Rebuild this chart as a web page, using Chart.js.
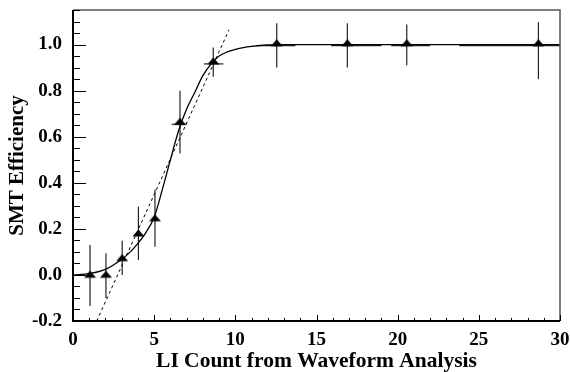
<!DOCTYPE html>
<html>
<head>
<meta charset="utf-8">
<script src="https://cdn.jsdelivr.net/npm/chart.js@4.4.1/dist/chart.umd.min.js"></script>
<style>
  html, body { margin: 0; padding: 0; background: #fff; }
</style>
</head>
<body>
<canvas id="effChart" width="570" height="372"></canvas>
<script>
const xTicks = [0, 5, 10, 15, 20, 25, 30];
const yTicks = [-0.2, 0.0, 0.2, 0.4, 0.6, 0.8, 1.0];

const liCount    = [1.05, 2.03, 3.03, 4.03, 5.05, 6.59, 8.64, 12.55, 16.9, 20.56, 28.67];
const efficiency = [-0.01, -0.01, 0.062, 0.169, 0.235, 0.654, 0.916, 0.995, 0.995, 0.995, 0.995];
const errHigh    = [0.13, 0.094, 0.148, 0.296, 0.371, 0.80, 0.987, 1.092, 1.092, 1.087, 1.097];
const errLow     = [-0.135, -0.10, 0.0, 0.065, 0.122, 0.527, 0.86, 0.90, 0.90, 0.91, 0.85];
const binLow     = [null, null, null, null, null, 6.08, 8.07, 11.3, 15.9, 19.6, 23.8];
const binHigh    = [null, null, null, null, null, 7.0, 9.26, 13.7, 19.0, 22.0, 30];

// fitted turn-on curve
const fitX = [0, 1, 2, 3, 3.5, 4, 4.5, 5, 5.5, 6, 6.5, 7, 7.5, 8, 8.5, 9, 9.5, 10, 10.5, 11, 12, 13, 30];
const fitY = [0, 0.006, 0.024, 0.068, 0.098, 0.137, 0.185, 0.25, 0.37, 0.50, 0.625, 0.72, 0.792, 0.865, 0.915, 0.95, 0.968, 0.979, 0.987, 0.992, 0.998, 1.0, 1.0];

// straight-line fit
const lineX = [1.46, 9.61];
const lineY = [-0.2, 1.064];

const SERIF = "'Liberation Serif', 'DejaVu Serif', serif";

// flat triangle marker, base sitting on the data value
function makeTriangle() {
  const c = document.createElement('canvas');
  c.width = 13;
  c.height = 14;
  const g = c.getContext('2d');
  g.fillStyle = '#000';
  g.beginPath();
  g.moveTo(0.5, 7.5);
  g.lineTo(12.5, 7.5);
  g.lineTo(6.5, 0.5);
  g.closePath();
  g.fill();
  return c;
}

// keep the plot frame where the reference has it
function fixBox(s, size) {
  if (s.isHorizontal()) s.height = size; else s.width = size;
  s.paddingTop = 0;
  s.paddingBottom = 0;
  s.paddingLeft = 0;
  s.paddingRight = 0;
}

const errorBars = {
  id: 'errorBars',
  beforeDatasetsDraw(chart) {
    const { ctx, scales: { x, y } } = chart;
    ctx.save();
    ctx.strokeStyle = '#222';
    ctx.lineWidth = 1.2;
    liCount.forEach((v, i) => {
      const px = x.getPixelForValue(v);
      ctx.beginPath();
      ctx.moveTo(px, y.getPixelForValue(errLow[i]));
      ctx.lineTo(px, y.getPixelForValue(errHigh[i]));
      ctx.stroke();
      if (binLow[i] !== null) {
        const py = y.getPixelForValue(efficiency[i]);
        ctx.beginPath();
        ctx.moveTo(x.getPixelForValue(binLow[i]), py);
        ctx.lineTo(x.getPixelForValue(binHigh[i]), py);
        ctx.stroke();
      }
    });
    ctx.restore();
  }
};

const rootFrame = {
  id: 'rootFrame',
  afterDatasetsDraw(chart) {
    const { ctx, chartArea: a, scales: { x, y } } = chart;
    ctx.save();
    // top and right edges
    ctx.strokeStyle = '#555';
    ctx.lineWidth = 1.5;
    ctx.beginPath();
    ctx.moveTo(a.left, a.top);
    ctx.lineTo(a.right, a.top);
    ctx.lineTo(a.right, a.bottom);
    ctx.stroke();
    // inward ticks
    ctx.strokeStyle = '#000';
    ctx.lineWidth = 1;
    for (let v = 0; v <= 30; v++) {
      const px = Math.round(x.getPixelForValue(v)) + 0.5;
      const len = v % 5 === 0 ? 6 : 3;
      ctx.beginPath();
      ctx.moveTo(px, a.bottom);
      ctx.lineTo(px, a.bottom - len);
      ctx.stroke();
    }
    for (let k = -4; k <= 23; k++) {
      const py = Math.round(y.getPixelForValue(k * 0.05)) + 0.5;
      const len = k % 4 === 0 ? 13 : 7;
      ctx.beginPath();
      ctx.moveTo(a.left, py);
      ctx.lineTo(a.left + len, py);
      ctx.stroke();
    }
    // left and bottom axes
    ctx.lineWidth = 2;
    ctx.beginPath();
    ctx.moveTo(a.left, a.top);
    ctx.lineTo(a.left, a.bottom);
    ctx.lineTo(a.right, a.bottom);
    ctx.stroke();
    ctx.restore();
  }
};

const ctx = document.getElementById('effChart').getContext('2d');
new Chart(ctx, {
  data: {
    datasets: [
      {
        type: 'line',
        data: fitX.map((v, i) => ({ x: v, y: fitY[i] })),
        borderColor: '#000',
        borderWidth: 1.3,
        pointRadius: 0,
        cubicInterpolationMode: 'monotone',
        fill: false
      },
      {
        type: 'line',
        data: lineX.map((v, i) => ({ x: v, y: lineY[i] })),
        borderColor: '#000',
        borderWidth: 1,
        borderDash: [3, 3],
        pointRadius: 0,
        fill: false
      },
      {
        type: 'scatter',
        data: liCount.map((v, i) => ({ x: v, y: efficiency[i] })),
        pointStyle: makeTriangle(),
        pointRadius: 6
      }
    ]
  },
  options: {
    responsive: false,
    animation: false,
    layout: { padding: { top: 10, right: 10, left: 0, bottom: 0 } },
    plugins: {
      legend: { display: false },
      tooltip: { enabled: false }
    },
    scales: {
      x: {
        type: 'linear',
        min: 0,
        max: 30,
        afterBuildTicks: s => { s.ticks = xTicks.map(v => ({ value: v })); },
        afterFit: s => fixBox(s, 51),
        grid: { display: false, drawTicks: false },
        border: { display: false },
        ticks: {
          color: '#000',
          padding: 8,
          maxRotation: 0,
          autoSkip: false,
          font: { family: SERIF, size: 19, weight: 'bold' }
        },
        title: {
          display: true,
          text: 'LI Count from Waveform Analysis',
          color: '#000',
          padding: { top: 0, bottom: 0 },
          font: { family: SERIF, size: 21.5, weight: 'bold', lineHeight: 0.95 }
        }
      },
      y: {
        type: 'linear',
        min: -0.2,
        max: 1.15,
        afterBuildTicks: s => { s.ticks = yTicks.map(v => ({ value: v })); },
        afterFit: s => fixBox(s, 73),
        grid: { display: false, drawTicks: false },
        border: { display: false },
        ticks: {
          color: '#000',
          padding: 11,
          autoSkip: false,
          callback: v => v.toFixed(1),
          font: { family: SERIF, size: 19, weight: 'bold' }
        },
        title: {
          display: true,
          text: 'SMT Efficiency',
          color: '#000',
          padding: { top: 7, bottom: 0 },
          font: { family: SERIF, size: 21, weight: 'bold', lineHeight: 1.05 }
        }
      }
    }
  },
  plugins: [errorBars, rootFrame]
});
</script>
</body>
</html>
